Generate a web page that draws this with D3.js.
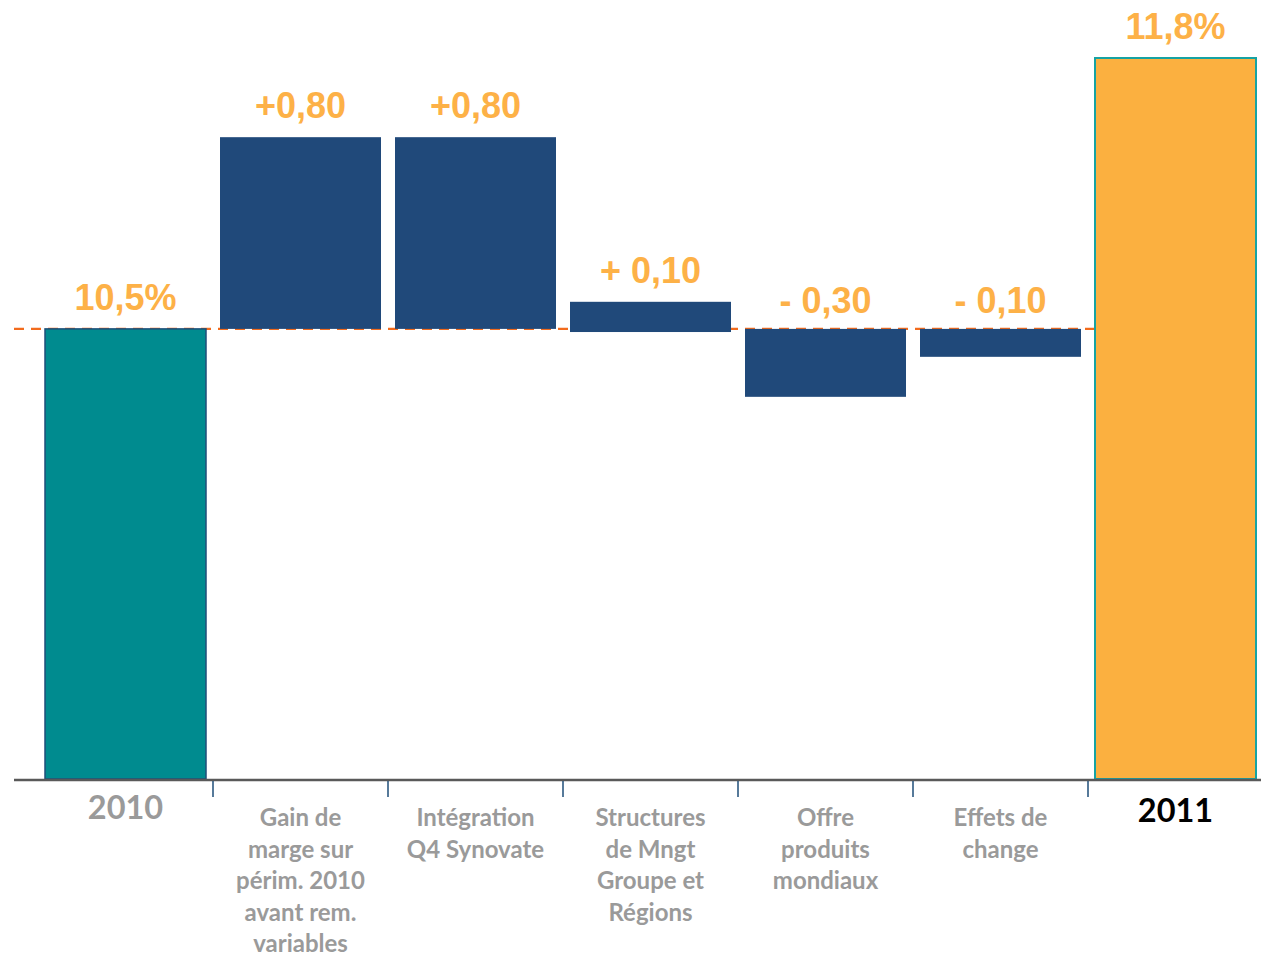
<!DOCTYPE html>
<html>
<head>
<meta charset="utf-8">
<script src="https://cdn.jsdelivr.net/npm/d3@7"></script>
<style>
  html, body { margin: 0; padding: 0; background: #fff; }
  svg { display: block; }
</style>
</head>
<body>
<svg id="chart" width="1261" height="957"></svg>
<script>
// ---- data (percentage points) ----
const categories = ["2010", "Gain", "Integration", "Structures", "Offre", "Effets", "2011"];
const categoryLines = [
  ["2010"],
  ["Gain de", "marge sur", "périm. 2010", "avant rem.", "variables"],
  ["Intégration", "Q4 Synovate"],
  ["Structures", "de Mngt", "Groupe et", "Régions"],
  ["Offre", "produits", "mondiaux"],
  ["Effets de", "change"],
  ["2011"]
];
const barStart = [8.34, 10.50, 10.50, 10.485, 10.50, 10.50, 8.34];
const barEnd   = [10.50, 11.42, 11.42, 10.63, 10.174, 10.366, 11.80];
const barKind  = ["start", "delta", "delta", "delta", "delta", "delta", "end"];
const valueLabels = ["10,5%", "+0,80", "+0,80", "+ 0,10", "- 0,30", "- 0,10", "11,8%"];
const referenceLevel = 10.5;
const yDomain = [8.34, 11.80];

// ---- layout ----
const svg = d3.select("#chart");

const x = d3.scaleBand()
  .domain(categories)
  .range([38, 1263])
  .paddingInner(0.08)
  .paddingOuter(0.04);

const y = d3.scaleLinear()
  .domain(yDomain)
  .range([779, 58]);

const fills = { start: "#008B8F", delta: "#20497A", end: "#FBB040" };
const strokes = { start: "#1F4E79", delta: "none", end: "#16A3A3" };

const data = categories.map((c, i) => ({
  cat: c, s: barStart[i], e: barEnd[i], kind: barKind[i],
  label: valueLabels[i], lines: categoryLines[i]
}));

// dashed reference line (behind bars)
svg.append("line")
  .attr("x1", 14).attr("x2", 1257)
  .attr("y1", y(referenceLevel)).attr("y2", y(referenceLevel))
  .attr("stroke", "#F26B1D")
  .attr("stroke-width", 2.2)
  .attr("stroke-dasharray", "10,7");

// bars
svg.append("g").selectAll("rect")
  .data(data)
  .join("rect")
  .attr("x", d => x(d.cat))
  .attr("width", d => x.bandwidth())
  .attr("y", d => y(Math.max(d.s, d.e)))
  .attr("height", d => Math.abs(y(d.s) - y(d.e)))
  .attr("fill", d => fills[d.kind])
  .attr("stroke", d => strokes[d.kind])
  .attr("stroke-width", d => d.kind === "end" ? 2 : 1.5);

// axis line
svg.append("line")
  .attr("x1", 14).attr("x2", 1261)
  .attr("y1", y(yDomain[0]) + 1).attr("y2", y(yDomain[0]) + 1)
  .attr("stroke", "#595959")
  .attr("stroke-width", 2.5);

// ticks between categories
const halfGap = (x.step() - x.bandwidth()) / 2;
svg.append("g").selectAll("line")
  .data(categories.slice(1))
  .join("line")
  .attr("x1", c => x(c) - halfGap)
  .attr("x2", c => x(c) - halfGap)
  .attr("y1", y(yDomain[0]) + 2)
  .attr("y2", y(yDomain[0]) + 18)
  .attr("stroke", "#1F4E79")
  .attr("stroke-width", 1.5);

// value labels
svg.append("g").selectAll("text")
  .data(data)
  .join("text")
  .attr("x", d => x(d.cat) + x.bandwidth() / 2)
  .attr("y", d => y(Math.max(d.s, d.e)) - (d.e < d.s ? 16 : 19))
  .attr("text-anchor", "middle")
  .attr("font-family", "'Liberation Sans', Arial, sans-serif")
  .attr("font-weight", "bold")
  .attr("font-size", 36)
  .attr("fill", "#FDB147")
  .text(d => d.label);

// category labels
const catG = svg.append("g");
data.forEach((d, i) => {
  const cx = x(d.cat) + x.bandwidth() / 2;
  const isEnd = d.kind !== "delta";
  const t = catG.append("text")
    .attr("x", cx)
    .attr("y", d.kind === "start" ? 819 : (d.kind === "end" ? 822 : 826))
    .attr("text-anchor", "middle")
    .attr("font-family", "Lato, 'Open Sans', sans-serif")
    .attr("font-weight", "bold")
    .attr("font-size", isEnd ? 32.5 : 24)
    .attr("fill", d.kind === "end" ? "#000000" : "#9A9A9A");
  d.lines.forEach((ln, j) => {
    t.append("tspan").attr("x", cx).attr("dy", j === 0 ? 0 : 31.6).text(ln);
  });
});
</script>
</body>
</html>
